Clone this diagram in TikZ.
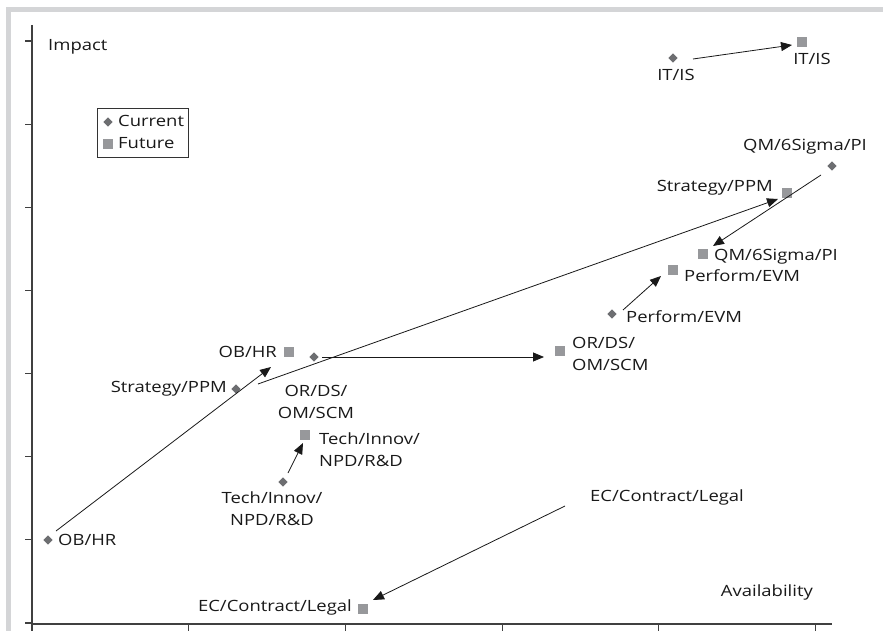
\documentclass[tikz,border=0pt]{standalone}
\usepackage{fontspec}
\setmainfont{Open Sans}[FakeStretch=1.19]
\usetikzlibrary{arrows.meta}
\definecolor{framegray}{HTML}{D4D5D7}
\definecolor{curgray}{HTML}{6D6E71}
\definecolor{futgray}{HTML}{97989B}
\definecolor{axisgray}{HTML}{404040}
\tikzset{
  lbl/.style={inner sep=0pt, font=\fontsize{15.5}{22}\selectfont, text=black!90},
  cur/.style={fill=curgray, inner sep=0pt, minimum size=6.5pt, rotate=45, draw=none, shape=rectangle},
  fut/.style={fill=futgray, inner sep=0pt, minimum size=10.5pt, draw=none, shape=rectangle},
  arr/.style={-{Triangle[length=11pt,width=9pt]}, line width=0.8pt, black!90},
  axis/.style={line width=1.1pt, axisgray},
}
\begin{document}
\begin{tikzpicture}[x=1pt,y=-1pt]
\useasboundingbox (0,0) rectangle (883,631);
\fill[white] (0,0) rectangle (883,631);
% frame bands
\draw[line width=5pt, framegray] (8.5,631) -- (8.5,9.5) -- (883,9.5);
% axes
\draw[axis] (32,25) -- (32,624) -- (832,624);
\foreach \k in {0,...,7} \draw[axis] (25,{41+\k*83.14}) -- (32,{41+\k*83.14});
\foreach \k in {0,...,5} \draw[axis] ({32+\k*156.7},624) -- ({32+\k*156.7},631);
\node[lbl, anchor=west] (ylab) at (48,47) {Impact};
\node[lbl, anchor=east] (xlab) at (813,592) {Availability};
% legend
\draw[line width=0.7pt, black!80] (97,108) rectangle (188,157);
\node[cur] (legc) at (108,122) {};
\node[lbl, anchor=west] (legct) at (118,121) {Current};
\node[fut] (legf) at (108,144) {};
\node[lbl, anchor=west] (legft) at (118,143) {Future};
% current points
\node[cur] (c-ob) at (48,540) {};
\node[cur] (c-st) at (236,389) {};
\node[cur] (c-or) at (314,357) {};
\node[cur] (c-te) at (283,482) {};
\node[cur] (c-pe) at (612,314) {};
\node[cur] (c-qm) at (832,166) {};
\node[cur] (c-it) at (673,58) {};
% future points
\node[fut] (f-it) at (802,42) {};
\node[fut] (f-st) at (787,193) {};
\node[fut] (f-qm) at (703,254) {};
\node[fut] (f-pe) at (673,270) {};
\node[fut] (f-or) at (560,351) {};
\node[fut] (f-ob) at (289,352) {};
\node[fut] (f-te) at (305,435) {};
\node[fut] (f-ec) at (363,609) {};
% labels current
\node[lbl, anchor=west] (lc-ob) at (58,540) {OB/HR};
\node[lbl, anchor=east] (lc-st) at (227,389) {Strategy/PPM};
\node[lbl, align=center] (lc-or) at (316,402) {OR/DS/\\OM/SCM};
\node[lbl, align=center] (lc-te) at (272,509) {Tech/Innov/\\NPD/R\&D};
\node[lbl, anchor=west] (lc-ec) at (590,497) {EC/Contract/Legal};
\node[lbl, anchor=west] (lc-pe) at (626,317) {Perform/EVM};
\node[lbl] (lc-qm) at (805,147) {QM/6Sigma/PI};
\node[lbl] (lc-it) at (676,75) {IT/IS};
% labels future
\node[lbl] (lf-it) at (812,59) {IT/IS};
\node[lbl, anchor=east] (lf-st) at (773,188) {Strategy/PPM};
\node[lbl, anchor=west] (lf-qm) at (714,257) {QM/6Sigma/PI};
\node[lbl, anchor=west] (lf-pe) at (684,276) {Perform/EVM};
\node[lbl, anchor=west, align=left] (lf-or) at (572,354) {OR/DS/\\OM/SCM};
\node[lbl, anchor=east] (lf-ob) at (277,352) {OB/HR};
\node[lbl, anchor=west, align=left] (lf-te) at (319,450) {Tech/Innov/\\NPD/R\&D};
\node[lbl, anchor=east] (lf-ec) at (352,607) {EC/Contract/Legal};
% arrow endpoints
\coordinate (a-ob-s) at (56,531);  \coordinate (a-ob-e) at (271,367);
\coordinate (a-st-s) at (258,384); \coordinate (a-st-e) at (778,199);
\coordinate (a-or-s) at (322,357); \coordinate (a-or-e) at (544,357);
\coordinate (a-te-s) at (288,473); \coordinate (a-te-e) at (303,443);
\coordinate (a-pe-s) at (623,310); \coordinate (a-pe-e) at (661,276);
\coordinate (a-qm-s) at (821,175); \coordinate (a-qm-e) at (713,246);
\coordinate (a-it-s) at (693,59);  \coordinate (a-it-e) at (792,45);
\coordinate (a-ec-s) at (565,506); \coordinate (a-ec-e) at (373,600);
\draw[arr] (a-ob-s) -- (a-ob-e);
\draw[arr] (a-st-s) -- (a-st-e);
\draw[arr] (a-or-s) -- (a-or-e);
\draw[arr] (a-te-s) -- (a-te-e);
\draw[arr] (a-pe-s) -- (a-pe-e);
\draw[arr] (a-qm-s) -- (a-qm-e);
\draw[arr] (a-it-s) -- (a-it-e);
\draw[arr] (a-ec-s) -- (a-ec-e);
\end{tikzpicture}
\end{document}
